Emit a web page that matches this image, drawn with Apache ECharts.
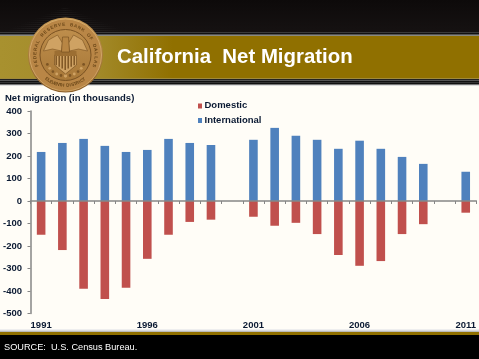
<!DOCTYPE html>
<html><head><meta charset="utf-8">
<style>html,body{margin:0;padding:0;background:#000}#c{width:479px;height:359px}</style>
<script src="https://cdn.jsdelivr.net/npm/echarts@6/dist/echarts.min.js"></script>
</head><body><div id="c"></div>
<script>
const years=['1991','1992','1993','1994','1995','1996','1997','1998','1999','2000','2001','2002','2003','2004','2005','2006','2007','2008','2009','2010','2011'];
const domestic=[-150,-218,-390,-435,-385,-257,-150,-93,-83,null,-70,-110,-97,-147,-240,-288,-267,-147,-103,null,-52];
const international=[218,258,276,245,218,227,276,258,249,null,272,325,290,272,232,268,232,196,165,null,130];
const titleText='California  Net Migration';
const yTitle='Net migration (in thousands)';
const sourceText='SOURCE:  U.S. Census Bureau.';
const sealTop='FEDERAL RESERVE BANK OF DALLAS';
const sealBottom='ELEVENTH DISTRICT';
const font='"Liberation Sans",Arial,sans-serif';
const ink='#0b1a33';
const chart=echarts.init(document.getElementById('c'),null,{renderer:'canvas'});
const rect=(x,y,w,h,fill,z)=>({type:'rect',shape:{x,y,width:w,height:h},style:{fill},z:z||0,silent:true});
const lin=(stops,horizontal)=>new echarts.graphic.LinearGradient(0,0,horizontal?1:0,horizontal?0:1,stops);
const CX=65.5,CY=55;
const ring=(r,fill,stroke,lw,z)=>({type:'circle',shape:{cx:CX,cy:CY,r},style:{fill:fill||'none',stroke:stroke||'none',lineWidth:lw||0},z,silent:true});
const poly=(points,fill,stroke,z)=>({type:'polygon',shape:{points},style:{fill,stroke:stroke||'none',lineWidth:stroke?0.6:0},z:z||7,silent:true});
function arcText(str,rad,startDeg,stepDeg,flip){
  return str.split('').map((ch,i)=>{
    const deg=startDeg+i*stepDeg, a=deg*Math.PI/180;
    return {type:'text',x:CX+rad*Math.cos(a),y:CY+rad*Math.sin(a),rotation:flip?-(a-Math.PI/2):-(a+Math.PI/2),
      style:{text:ch,fill:'#6b4718',font:'bold 4.6px '+font,align:'center',verticalAlign:'middle'},z:6,silent:true};
  });
}
const shieldStripes=[0,1,2,3,4,5,6].map(i=>rect(CX-10+i*3,CY+1,1.4,14-Math.abs(i-3)*1.6,'#7a5120',8));
const laurel=[];
[-1,1].forEach(s=>{for(let i=0;i<6;i++){const a=(25+i*13)*Math.PI/180;
  laurel.push({type:'circle',shape:{cx:CX+s*20*Math.cos(a),cy:CY+20*Math.sin(a)+1,r:1.4},style:{fill:i%2?'#CFA263':'#7d5524'},z:6,silent:true});}});
const glowLines=[];
for(let y=8;y<32;y+=2){const f=(y-8)/24;glowLines.push(rect(65-60*f-5,y,2*(60*f+5),1,new echarts.graphic.LinearGradient(0,0,1,0,[{offset:0,color:'rgba(90,90,90,0)'},{offset:.5,color:'rgba(90,90,90,'+(.1+.3*f)+')'},{offset:1,color:'rgba(90,90,90,0)'}]),0));}
chart.setOption({
  animation:false,
  backgroundColor:'#FFFDF7',
  grid:{left:29,right:2.5,top:111,bottom:45.5,containLabel:false},
  xAxis:{type:'category',data:years,
    axisLine:{onZero:true,lineStyle:{color:'#868686',width:1.5}},
    axisTick:{show:true,interval:0,length:3,lineStyle:{color:'#868686',width:1}},
    axisLabel:{interval:4,color:ink,fontFamily:font,fontWeight:'bold',fontSize:9.5,margin:7},
    z:5},
  yAxis:{type:'value',min:-500,max:400,interval:100,
    axisLine:{show:true,lineStyle:{color:'#868686',width:1.5}},
    axisTick:{show:true,length:3,lineStyle:{color:'#868686',width:1}},
    splitLine:{show:false},
    axisLabel:{color:ink,fontFamily:font,fontWeight:'bold',fontSize:9.5,margin:8.5}},
  series:[
    {name:'Domestic',type:'bar',stack:'m',data:domestic,barWidth:8.6,itemStyle:{color:'#C0504D'}},
    {name:'International',type:'bar',stack:'m',data:international,barWidth:8.6,itemStyle:{color:'#4F81BD'}}
  ],
  graphic:[
    rect(0,0,479,33,lin([{offset:0,color:'#0d0a0a'},{offset:1,color:'#161212'}]),-1),
    ...glowLines,
    rect(0,32,479,1,'#3a3a3a',1),rect(0,33,479,1,'#111',1),rect(0,34,479,1,'#555',1),rect(0,35,479,1,'#8a8a80',1),
    rect(0,36,479,42,lin([{offset:0,color:'#A8912F'},{offset:0.2,color:'#A38A2A'},{offset:0.36,color:'#907000'},{offset:1,color:'#907000'}],true),1),
    rect(0,78,479,1,'#A08A3A',1),rect(0,79,479,1,'#222',1),rect(0,80,479,1,'#555',1),rect(0,81,479,1,'#111',1),rect(0,82,479,1,'#333',1),rect(0,83,479,1,'#111',1),
    rect(0,84,479,1,'#777',1),rect(0,85,479,1,'#ddd',1),
    rect(0,329,479,1,'#eee',1),rect(0,330,479,1,'#ddd',1),rect(0,331,479,1,'#bbb',1),rect(0,332,479,3,'#907000',1),rect(0,335,479,24,'#000',1),
    ring(37.5,lin([{offset:0,color:'#C89A55'},{offset:1,color:'#8C5E28'}]),null,0,2),
    ring(36,'#B98646','#D8AE70',0.8,3),
    ring(25.5,lin([{offset:0,color:'#BE8E4C'},{offset:1,color:'#A87838'}]),'#7A5222',1,5),
    ...arcText(sealTop,30.5,-200,7.6,false),
    ...arcText(sealBottom,30.5,128,-4.7,true),
    ...laurel,
    poly([[CX-11,CY],[CX+11,CY],[CX+11,CY+10],[CX,CY+19],[CX-11,CY+10]],'#CFA263','#6F4A1C',7),
    rect(CX-11,CY-4,22,5,'#9C6E32',7),
    ...shieldStripes,
    poly([[CX-22,CY-4],[CX-17,CY-15],[CX-8,CY-20],[CX-3,CY-12],[CX-4,CY-4],[CX-13,CY-6]],'#CFA263','#7A5222'),
    poly([[CX+22,CY-4],[CX+17,CY-15],[CX+8,CY-20],[CX+3,CY-12],[CX+4,CY-4],[CX+13,CY-6]],'#CFA263','#7A5222'),
    poly([[CX-3,CY-18],[CX+3,CY-18],[CX+4,CY-3],[CX-4,CY-3]],'#B88644','#6F4A1C'),
    {type:'text',style:{x:117,y:57.5,text:titleText,fill:'#fff',font:'bold 20.4px '+font,verticalAlign:'middle',shadowColor:'rgba(0,0,0,.8)',shadowBlur:1.5,shadowOffsetX:1,shadowOffsetY:1},z:6,silent:true},
    {type:'text',style:{x:5,y:98.7,text:yTitle,fill:ink,font:'bold 9.5px '+font,verticalAlign:'middle'},z:9,silent:true},
    rect(198,103.5,4,5,'#C0504D',6),
    {type:'text',style:{x:204.5,y:105.7,text:'Domestic',fill:ink,font:'bold 9.5px '+font,verticalAlign:'middle'},z:6,silent:true},
    rect(198,118,4,5,'#4F81BD',6),
    {type:'text',style:{x:204.5,y:120,text:'International',fill:ink,font:'bold 9.5px '+font,verticalAlign:'middle'},z:6,silent:true},
    {type:'text',style:{x:4,y:347.7,text:sourceText,fill:'#fff',font:'9.2px '+font,verticalAlign:'middle'},z:6,silent:true}
  ]
});
</script></body></html>
